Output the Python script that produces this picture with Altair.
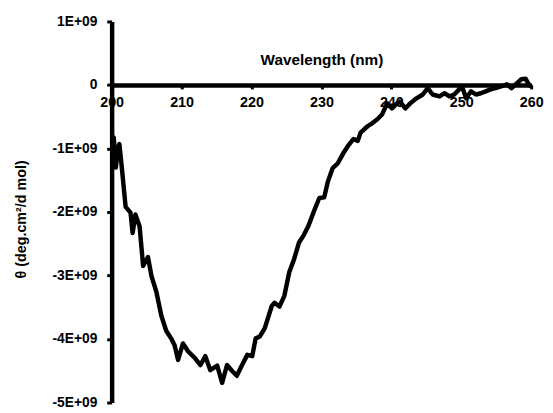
import altair as alt
import pandas as pd

wavelength = [200.0, 200.3, 200.6, 200.9, 201.1, 201.4, 202.0, 202.7, 203.0, 203.4, 204.0, 204.5,
              205.2, 205.7, 206.4, 207.1, 207.8, 208.5, 209.0, 209.5, 210.2, 210.9, 211.9, 212.7,
              213.4, 214.1, 215.1, 215.8, 216.5, 217.2, 217.9, 218.6, 219.4, 220.1, 220.6, 221.2,
              221.9, 222.9, 223.3, 224.0, 224.7, 225.4, 226.1, 226.8, 227.5, 228.1, 229.0, 229.7,
              230.4, 230.9, 231.6, 232.3, 233.1, 233.8, 234.6, 235.2, 235.6, 236.6, 237.3, 238.0,
              238.7, 239.4, 240.1, 240.8, 241.2, 242.0, 242.7, 243.6, 244.5, 245.2, 245.9, 246.9,
              247.6, 248.3, 249.0, 249.7, 250.1, 250.7, 251.4, 252.1, 252.8, 253.5, 254.2, 254.9,
              255.8, 256.5, 257.2, 257.9, 258.6, 259.2, 259.6, 260.0]

theta_e9 = [-0.80, -0.83, -1.30, -1.00, -0.93, -1.24, -1.92, -2.01, -2.33, -2.04, -2.23, -2.85,
            -2.71, -3.01, -3.26, -3.63, -3.87, -3.99, -4.10, -4.33, -4.07, -4.19, -4.30, -4.41,
            -4.27, -4.49, -4.42, -4.69, -4.41, -4.50, -4.58, -4.42, -4.25, -4.27, -3.99, -3.96,
            -3.83, -3.48, -3.43, -3.49, -3.32, -2.95, -2.74, -2.48, -2.36, -2.23, -1.97, -1.78,
            -1.77, -1.53, -1.31, -1.24, -1.08, -0.96, -0.85, -0.88, -0.75, -0.65, -0.60, -0.54,
            -0.46, -0.29, -0.37, -0.29, -0.26, -0.37, -0.29, -0.21, -0.15, -0.05, -0.15, -0.18,
            -0.13, -0.18, -0.15, -0.07, -0.02, -0.21, -0.10, -0.15, -0.13, -0.10, -0.07, -0.05,
            -0.02, 0.01, -0.05, 0.02, 0.09, 0.10, 0.02, -0.03]

x_ticks = [200, 210, 220, 230, 240, 250, 260]
y_ticks = [-5e9, -4e9, -3e9, -2e9, -1e9, 0, 1e9]

df = pd.DataFrame({"wl": wavelength, "theta": [v * 1e9 for v in theta_e9]})

W, H = 425, 386
FONT = "Liberation Sans"

chart = alt.Chart(df).mark_line(color="black", strokeWidth=4.5, strokeJoin="round").encode(
    x=alt.X("wl:Q", scale=alt.Scale(domain=[200, 260], nice=False, zero=False),
            axis=alt.Axis(title="Wavelength (nm)", values=x_ticks, orient="bottom",
                          offset=-(H * 5 / 6), grid=False, domainColor="black",
                          domainWidth=4.5, tickColor="black", tickWidth=3, tickSize=4,
                          labelPadding=7, labelFlush=False, labelFont=FONT, labelFontSize=14.5,
                          labelFontWeight="bold", labelColor="black",
                          titleFont=FONT, titleFontSize=15.5, titleFontWeight="bold",
                          titleColor="black", titleX=W / 2, titleY=-21,
                          titleBaseline="alphabetic")),
    y=alt.Y("theta:Q", scale=alt.Scale(domain=[-5e9, 1e9], nice=False),
            axis=alt.Axis(title="θ (deg.cm²/d mol)", values=y_ticks,
                          labelExpr="datum.value == 0 ? '0' : (datum.value / 1e9) + 'E+09'",
                          grid=False, domainColor="black", domainWidth=4.5,
                          tickColor="black", tickWidth=3, tickSize=5, labelPadding=10,
                          labelFlush=False, labelFont=FONT, labelFontSize=14,
                          labelFontWeight="bold", labelColor="black", titleFont=FONT,
                          titleFontSize=14.5, titleFontWeight="bold", titleColor="black",
                          titleAngle=270, titleX=-91, titleY=200, titleBaseline="middle",
                          titleAlign="center")),
).properties(
    width=W, height=H,
    autosize=alt.AutoSizeParams(type="none"),
    padding={"left": 105, "top": 11, "right": 14, "bottom": 8},
).configure_view(stroke=None)

chart.save("out.html", embed_options={"renderer": "svg", "actions": False})
